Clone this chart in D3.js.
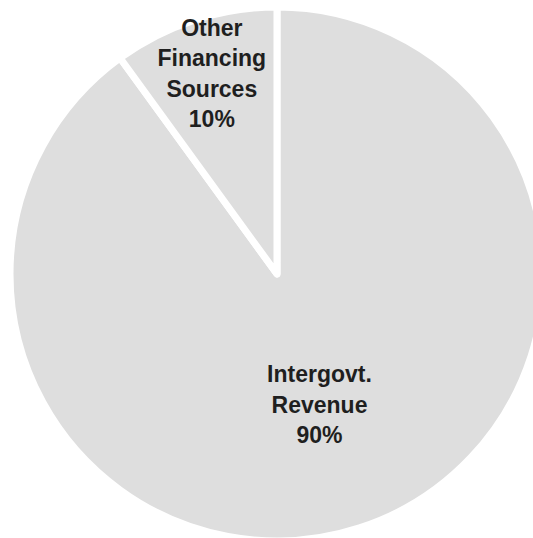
<!DOCTYPE html>
<html>
<head>
<meta charset="utf-8">
<script src="https://cdn.jsdelivr.net/npm/d3@7"></script>
<style>
  html, body { margin: 0; padding: 0; background: #ffffff; }
  svg { display: block; }
</style>
</head>
<body>
<svg id="chart" width="533" height="538"></svg>
<script>
// Funding sources, share of total (%)
const categories = ["Intergovt.\nRevenue", "Other\nFinancing\nSources"];
const shares = [90, 10];
const percentLabels = ["90%", "10%"];

const width = 533, height = 538;
const cx = 277, cy = 274;
const outerR = 267;
// label distance from centre, as fraction of radius, per slice
const labelFrac = [0.515, 0.79];

const svg = d3.select("#chart");
const g = svg.append("g").attr("transform", `translate(${cx},${cy})`);

const pie = d3.pie().sort(null).value(d => d.value);
const arcs = pie(categories.map((c, i) => ({ name: c, value: shares[i], pct: percentLabels[i] })));

const arc = d3.arc().innerRadius(0).outerRadius(outerR);

g.selectAll("path.slice")
  .data(arcs)
  .join("path")
  .attr("class", "slice")
  .attr("d", arc)
  .attr("fill", "#dedede")
  .attr("stroke", "#ffffff")
  .attr("stroke-width", 7)
  .attr("stroke-linejoin", "round");

const lineH = 30.5;
arcs.forEach((a, i) => {
  const la = d3.arc().innerRadius(outerR * labelFrac[i] * 2).outerRadius(0);
  const [x, y] = la.centroid(a);
  const lines = a.data.name.split("\n").concat([a.data.pct]);
  const n = lines.length;
  const t = g.append("text")
    .attr("text-anchor", "middle")
    .attr("font-family", "'Liberation Sans', Arial, sans-serif")
    .attr("font-weight", "bold")
    .attr("font-size", 23)
    .attr("fill", "#1f1f1f");
  lines.forEach((s, k) => {
    t.append("tspan")
      .attr("x", x)
      .attr("y", y + (k - (n - 1) / 2) * lineH + 8)
      .text(s);
  });
});
</script>
</body>
</html>
